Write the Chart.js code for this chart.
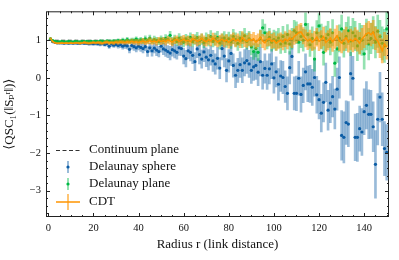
<!DOCTYPE html>
<html>
<head>
<meta charset="utf-8">
<script src="https://cdn.jsdelivr.net/npm/chart.js@4.4.1/dist/chart.umd.min.js"></script>
<style>
    html, body { margin: 0; padding: 0; background: #fff; }
    canvas { display: block; }
</style>
</head>
<body>
<canvas id="qscChart" width="399" height="260"></canvas>
<script>
// radius r (link distance), 1..150
const radii = Array.from({ length: 150 }, (_, i) => i + 1);

// tick labels
const xTickValues = [0, 20, 40, 60, 80, 100, 120, 140];
const yTickValues = [-3, -2, -1, 0, 1];

// continuum plane reference
const continuumX = [0, 150];
const continuumY = [1, 1];

// Delaunay sphere
const sphereMean = [
    1.03, 0.96, 0.94, 0.93, 0.93, 0.93, 0.92, 0.93, 0.92, 0.93,
    0.92, 0.93, 0.92, 0.92, 0.93, 0.92, 0.92, 0.91, 0.92, 0.91,
    0.92, 0.91, 0.90, 0.92, 0.89, 0.91, 0.84, 0.90, 0.87, 0.89,
    0.86, 0.88, 0.84, 0.87, 0.85, 0.76, 0.86, 0.83, 0.80, 0.84,
    0.81, 0.78, 0.83, 0.70, 0.80, 0.72, 0.79, 0.74, 0.70, 0.84,
    0.77, 0.74, 0.70, 0.66, 0.75, 0.72, 0.68, 0.80, 0.78, 0.58,
    0.51, 0.72, 0.68, 0.60, 0.43, 0.77, 0.62, 0.50, 0.69, 0.55,
    0.48, 0.60, 0.45, 0.37, 0.52, 0.26, 0.78, 0.58, 0.20, 0.45,
    0.65, 0.33, 0.07, 0.20, 0.35, 0.20, 0.40, 0.46, 0.37, 0.20,
    0.29, 0.33, 0.15, 0.43, 0.07, 0.25, 0.07, 0.24, 0.37, 0.00,
    0.16, -0.17, 0.05, 0.01, -0.23, -0.41, 0.27, 0.57, -0.41, -0.41,
    -0.01, -0.44, -0.20, 0.16, -0.16, -0.16, -0.25, 0.01, -0.45, -0.58,
    -0.94, -0.65, -0.12, -0.86, -0.67, -0.50, -0.83, -0.30, 0.01, -1.53,
    -1.58, -1.19, -1.23, 0.11, -0.01, -1.58, -1.58, -1.35, -1.44, -0.90,
    -0.73, -0.97, -0.97, -1.30, -2.30, -1.10, -0.51, -1.10, -1.88, -1.98
];
const sphereErr = [
    0.02, 0.02, 0.02, 0.02, 0.02, 0.02, 0.03, 0.02, 0.03, 0.03,
    0.03, 0.03, 0.03, 0.04, 0.03, 0.04, 0.04, 0.04, 0.05, 0.04,
    0.05, 0.05, 0.05, 0.06, 0.05, 0.06, 0.06, 0.07, 0.06, 0.07,
    0.07, 0.08, 0.08, 0.09, 0.08, 0.10, 0.09, 0.10, 0.11, 0.10,
    0.11, 0.12, 0.11, 0.13, 0.12, 0.14, 0.13, 0.15, 0.14, 0.16,
    0.15, 0.17, 0.16, 0.18, 0.17, 0.19, 0.18, 0.20, 0.19, 0.21,
    0.22, 0.21, 0.23, 0.22, 0.24, 0.23, 0.25, 0.24, 0.26, 0.25,
    0.27, 0.26, 0.28, 0.27, 0.29, 0.28, 0.30, 0.29, 0.31, 0.30,
    0.32, 0.31, 0.33, 0.32, 0.34, 0.33, 0.35, 0.34, 0.36, 0.35,
    0.36, 0.37, 0.36, 0.38, 0.37, 0.39, 0.38, 0.40, 0.39, 0.41,
    0.40, 0.42, 0.41, 0.43, 0.42, 0.44, 0.43, 0.45, 0.44, 0.46,
    0.45, 0.47, 0.46, 0.48, 0.47, 0.49, 0.48, 0.50, 0.49, 0.51,
    0.50, 0.52, 0.51, 0.53, 0.52, 0.54, 0.53, 0.56, 0.55, 0.66,
    0.68, 0.58, 0.60, 0.57, 0.58, 0.62, 0.64, 0.60, 0.62, 0.61,
    0.63, 0.65, 0.64, 0.66, 0.90, 0.68, 0.66, 0.70, 0.72, 0.74
];

// Delaunay plane
const planeMean = [
    1.04, 0.99, 0.97, 0.96, 0.96, 0.97, 0.96, 0.96, 0.97, 0.96,
    0.96, 0.97, 0.96, 0.96, 0.97, 0.96, 0.97, 0.96, 0.97, 0.96,
    0.97, 0.96, 0.98, 0.97, 0.96, 0.98, 0.97, 0.96, 0.98, 0.97,
    0.99, 0.97, 1.00, 0.98, 1.02, 0.97, 1.00, 0.99, 1.03, 0.98,
    1.01, 0.98, 1.04, 0.99, 1.06, 0.98, 1.02, 1.00, 0.97, 1.03,
    0.99, 1.05, 1.02, 1.13, 0.98, 1.03, 0.97, 1.06, 1.00, 0.95,
    1.04, 0.99, 1.08, 0.96, 1.02, 1.07, 0.98, 1.03, 0.94, 1.05,
    1.00, 1.10, 0.97, 1.03, 1.08, 0.93, 1.01, 1.06, 0.98, 1.04,
    0.96, 1.10, 1.02, 0.92, 1.05, 1.00, 1.12, 0.97, 1.04, 0.82,
    0.70, 0.78, 0.68, 1.05, 1.33, 1.20, 1.00, 1.08, 0.95, 1.02,
    0.98, 1.06, 0.90, 1.10, 0.93, 1.15, 0.90, 1.04, 1.25, 1.20,
    0.95, 1.10, 1.00, 1.42, 1.15, 0.88, 1.05, 0.50, 1.20, 1.38,
    1.10, 0.68, 1.05, 1.15, 0.95, 1.20, 0.39, 0.77, 1.05, 1.30,
    0.92, 1.10, 1.25, 0.98, 1.20, 1.11, 0.85, 1.05, 1.00, 0.64,
    1.15, 0.90, 1.05, 1.20, 0.95, 1.24, 1.10, 0.92, 0.85, 1.30
];
const planeErr = [
    0.02, 0.02, 0.02, 0.02, 0.02, 0.02, 0.02, 0.02, 0.02, 0.02,
    0.02, 0.02, 0.03, 0.02, 0.03, 0.03, 0.03, 0.03, 0.03, 0.03,
    0.03, 0.04, 0.03, 0.04, 0.04, 0.04, 0.04, 0.05, 0.04, 0.05,
    0.05, 0.05, 0.06, 0.05, 0.06, 0.06, 0.06, 0.07, 0.06, 0.07,
    0.07, 0.07, 0.08, 0.07, 0.08, 0.08, 0.09, 0.08, 0.09, 0.09,
    0.09, 0.10, 0.10, 0.11, 0.10, 0.11, 0.11, 0.12, 0.11, 0.12,
    0.12, 0.13, 0.12, 0.13, 0.13, 0.14, 0.13, 0.14, 0.14, 0.15,
    0.15, 0.16, 0.15, 0.16, 0.16, 0.17, 0.16, 0.17, 0.17, 0.18,
    0.18, 0.19, 0.18, 0.19, 0.19, 0.20, 0.20, 0.21, 0.20, 0.21,
    0.21, 0.22, 0.22, 0.23, 0.22, 0.23, 0.23, 0.24, 0.24, 0.25,
    0.25, 0.26, 0.25, 0.27, 0.26, 0.27, 0.27, 0.28, 0.28, 0.29,
    0.29, 0.30, 0.29, 0.31, 0.30, 0.31, 0.31, 0.32, 0.32, 0.33,
    0.33, 0.34, 0.33, 0.35, 0.34, 0.35, 0.35, 0.36, 0.36, 0.37,
    0.37, 0.38, 0.37, 0.39, 0.38, 0.39, 0.39, 0.40, 0.40, 0.41,
    0.41, 0.42, 0.41, 0.43, 0.42, 0.43, 0.43, 0.44, 0.44, 0.45
];

// CDT
const cdtMean = [
    1.05, 0.96, 0.93, 0.92, 0.92, 0.93, 0.92, 0.93, 0.92, 0.93,
    0.92, 0.93, 0.93, 0.92, 0.93, 0.94, 0.93, 0.92, 0.93, 0.94,
    0.93, 0.94, 0.93, 0.92, 0.94, 0.95, 0.93, 0.94, 0.93, 0.95,
    0.94, 0.96, 0.95, 0.94, 0.96, 0.95, 0.97, 0.95, 0.96, 0.94,
    0.96, 0.98, 0.95, 0.97, 0.99, 0.96, 0.98, 0.95, 1.00, 0.97,
    0.99, 0.96, 1.01, 0.98, 0.95, 1.00, 1.02, 0.97, 0.99, 1.03,
    0.98, 1.00, 0.96, 1.04, 1.01, 0.97, 1.00, 1.05, 0.99, 0.96,
    1.02, 0.98, 1.06, 1.00, 0.95, 0.99, 1.03, 0.97, 1.01, 0.94,
    1.00, 1.05, 0.98, 1.02, 0.96, 1.07, 1.00, 0.97, 1.03, 0.99,
    1.04, 0.95, 1.00, 1.08, 0.98, 0.93, 1.02, 1.05, 0.97, 1.00,
    0.92, 0.97, 1.00, 0.95, 1.03, 0.98, 1.06, 1.02, 1.10, 1.15,
    1.20, 1.22, 1.12, 1.05, 0.98, 1.03, 0.95, 1.00, 1.08, 0.97,
    1.02, 1.10, 0.94, 1.00, 1.06, 0.96, 1.04, 1.12, 0.98, 0.93,
    1.00, 1.07, 0.95, 1.02, 0.97, 1.05, 0.99, 0.92, 1.03, 1.10,
    1.17, 1.20, 1.15, 1.22, 1.05, 0.98, 0.85, 0.72, 0.90, 0.82
];
const cdtErr = [
    0.02, 0.02, 0.02, 0.02, 0.02, 0.02, 0.02, 0.02, 0.02, 0.02,
    0.02, 0.02, 0.02, 0.03, 0.02, 0.03, 0.03, 0.03, 0.03, 0.03,
    0.03, 0.03, 0.04, 0.03, 0.04, 0.04, 0.04, 0.04, 0.05, 0.04,
    0.05, 0.05, 0.05, 0.05, 0.06, 0.05, 0.06, 0.06, 0.06, 0.07,
    0.06, 0.07, 0.07, 0.07, 0.08, 0.07, 0.08, 0.08, 0.08, 0.09,
    0.08, 0.09, 0.09, 0.09, 0.10, 0.09, 0.10, 0.10, 0.11, 0.10,
    0.11, 0.11, 0.11, 0.12, 0.11, 0.12, 0.12, 0.12, 0.13, 0.12,
    0.13, 0.13, 0.13, 0.14, 0.13, 0.14, 0.14, 0.15, 0.14, 0.15,
    0.15, 0.15, 0.16, 0.15, 0.16, 0.16, 0.17, 0.16, 0.17, 0.17,
    0.17, 0.18, 0.17, 0.18, 0.18, 0.19, 0.18, 0.19, 0.19, 0.20,
    0.19, 0.20, 0.20, 0.21, 0.20, 0.21, 0.21, 0.22, 0.21, 0.22,
    0.22, 0.23, 0.22, 0.23, 0.23, 0.24, 0.23, 0.24, 0.24, 0.25,
    0.24, 0.25, 0.25, 0.26, 0.25, 0.26, 0.26, 0.27, 0.26, 0.27,
    0.27, 0.28, 0.27, 0.28, 0.28, 0.29, 0.28, 0.29, 0.29, 0.30,
    0.29, 0.30, 0.30, 0.31, 0.30, 0.31, 0.31, 0.32, 0.31, 0.32
];

const seriesNames = ['Continuum plane', 'Delaunay sphere', 'Delaunay plane', 'CDT'];

const BLUE = '#0C5DA5';
const GREEN = '#00B945';
const ORANGE = '#FF9500';
const BLUE_ERR = 'rgba(12,93,165,0.42)';
const GREEN_ERR = 'rgba(0,185,69,0.42)';
const ORANGE_ERR = 'rgba(255,149,0,0.55)';
const FONT = "'Liberation Serif', 'DejaVu Serif', serif";

const QscChart = {
    chart: null,

    /**
     * points as {x, y}
     */
    toPoints: function(xs, ys) {
        return xs.map((x, i) => ({ x: x, y: ys[i] }));
    },

    /**
     * error bars as floating bars [mean - err, mean + err]
     */
    toErrorBars: function(means, errs) {
        return radii.map((r, i) => ({ x: r, y: [means[i] - errs[i], means[i] + errs[i]] }));
    },

    /**
     * inward ticks on all four sides plus the frame
     */
    frameTicks: {
        id: 'frameTicks',
        afterDraw: function(chart) {
            const ctx = chart.ctx;
            const area = chart.chartArea;
            const xs = chart.scales.x;
            const ys = chart.scales.y;
            ctx.save();
            ctx.strokeStyle = '#222';
            ctx.lineWidth = 1;
            ctx.strokeRect(area.left + 0.5, area.top + 0.5, area.right - area.left - 1, area.bottom - area.top - 1);
            ctx.beginPath();
            for (let k = 0; k <= 150; k += 5) {
                const px = Math.round(xs.getPixelForValue(k)) + 0.5;
                const len = k % 20 === 0 ? 4 : 2;
                ctx.moveTo(px, area.bottom);
                ctx.lineTo(px, area.bottom - len);
                ctx.moveTo(px, area.top);
                ctx.lineTo(px, area.top + len);
            }
            for (let k = -18; k <= 8; k++) {
                const py = Math.round(ys.getPixelForValue(k / 5)) + 0.5;
                const len = k % 5 === 0 ? 4 : 2;
                ctx.moveTo(area.left, py);
                ctx.lineTo(area.left + len, py);
                ctx.moveTo(area.right, py);
                ctx.lineTo(area.right - len, py);
            }
            ctx.stroke();
            ctx.restore();
        }
    },

    /**
     * legend inside the lower left corner
     */
    insideLegend: {
        id: 'insideLegend',
        afterDraw: function(chart) {
            const ctx = chart.ctx;
            const rows = [150, 167, 184, 202];
            const x0 = 56, x1 = 80, xm = 68;
            ctx.save();
            // Continuum plane
            ctx.strokeStyle = '#333';
            ctx.lineWidth = 1;
            ctx.setLineDash([4, 2.5]);
            ctx.beginPath();
            ctx.moveTo(x0, rows[0] + 0.5);
            ctx.lineTo(x1, rows[0] + 0.5);
            ctx.stroke();
            ctx.setLineDash([]);
            // Delaunay sphere / plane
            [[BLUE, BLUE_ERR], [GREEN, GREEN_ERR]].forEach((c, i) => {
                const y = rows[i + 1];
                ctx.fillStyle = c[1];
                ctx.fillRect(xm - 1, y - 6, 2, 12);
                ctx.fillStyle = c[0];
                ctx.beginPath();
                ctx.arc(xm, y, 1.6, 0, Math.PI * 2);
                ctx.fill();
            });
            // CDT
            ctx.fillStyle = ORANGE_ERR;
            ctx.fillRect(xm - 1, rows[3] - 8, 2, 16);
            ctx.strokeStyle = ORANGE;
            ctx.lineWidth = 1.5;
            ctx.beginPath();
            ctx.moveTo(x0, rows[3]);
            ctx.lineTo(x1, rows[3]);
            ctx.stroke();
            // labels
            ctx.fillStyle = '#111';
            ctx.font = '13px ' + FONT;
            ctx.textBaseline = 'middle';
            seriesNames.forEach((name, i) => ctx.fillText(name, 89, rows[i]));
            ctx.restore();
        }
    },

    init: function() {
        const ctx = document.getElementById('qscChart').getContext('2d');
        const minus = v => (v < 0 ? '\u2212' + Math.abs(v) : String(v));

        this.chart = new Chart(ctx, {
            type: 'line',
            data: {
                datasets: [
                    {
                        label: seriesNames[0],
                        data: this.toPoints(continuumX, continuumY),
                        borderColor: '#333',
                        borderWidth: 1,
                        borderDash: [4, 2.5],
                        pointRadius: 0,
                        order: 10
                    },
                    {
                        type: 'bar',
                        label: seriesNames[1] + ' err',
                        data: this.toErrorBars(sphereMean, sphereErr),
                        backgroundColor: BLUE_ERR,
                        barThickness: 2,
                        grouped: false,
                        order: 9
                    },
                    {
                        label: seriesNames[1],
                        data: this.toPoints(radii, sphereMean),
                        showLine: false,
                        pointRadius: 1.6,
                        pointBorderWidth: 0,
                        pointBackgroundColor: BLUE,
                        order: 8
                    },
                    {
                        type: 'bar',
                        label: seriesNames[2] + ' err',
                        data: this.toErrorBars(planeMean, planeErr),
                        backgroundColor: GREEN_ERR,
                        barThickness: 2,
                        grouped: false,
                        order: 7
                    },
                    {
                        label: seriesNames[2],
                        data: this.toPoints(radii, planeMean),
                        showLine: false,
                        pointRadius: 1.6,
                        pointBorderWidth: 0,
                        pointBackgroundColor: GREEN,
                        order: 6
                    },
                    {
                        type: 'bar',
                        label: seriesNames[3] + ' err',
                        data: this.toErrorBars(cdtMean, cdtErr),
                        backgroundColor: ORANGE_ERR,
                        barThickness: 2,
                        grouped: false,
                        order: 5
                    },
                    {
                        label: seriesNames[3],
                        data: this.toPoints(radii, cdtMean),
                        borderColor: ORANGE,
                        borderWidth: 1.5,
                        pointRadius: 0,
                        tension: 0,
                        order: 4
                    }
                ]
            },
            options: {
                responsive: false,
                animation: false,
                events: [],
                layout: { padding: { top: 8, right: 10, left: 0, bottom: 0 } },
                plugins: {
                    legend: { display: false },
                    tooltip: { enabled: false }
                },
                scales: {
                    x: {
                        type: 'linear',
                        min: -1,
                        max: 151,
                        offset: false,
                        grid: { display: false, drawTicks: false },
                        border: { display: false },
                        ticks: {
                            padding: 5,
                            maxRotation: 0,
                            autoSkip: false,
                            color: '#111',
                            font: { family: FONT, size: 10.5 }
                        },
                        afterBuildTicks: s => {
                            s.ticks = xTickValues.map(v => ({ value: v }));
                        },
                        afterFit: s => { s.height = 43; },
                        title: {
                            display: true,
                            text: 'Radius r (link distance)',
                            color: '#111',
                            font: { family: FONT, size: 13 },
                            padding: { top: 0, bottom: 8 }
                        }
                    },
                    y: {
                        min: -3.7,
                        max: 1.77,
                        grid: { display: false, drawTicks: false },
                        border: { display: false },
                        ticks: {
                            padding: 5,
                            autoSkip: false,
                            color: '#111',
                            font: { family: FONT, size: 10.5 },
                            callback: v => minus(v)
                        },
                        afterBuildTicks: s => {
                            s.ticks = yTickValues.map(v => ({ value: v }));
                        },
                        afterFit: s => { s.width = 46; },
                        title: {
                            display: true,
                            text: '\u27E8QSC\u2081(\u2016S\u209A\u02B3\u2016)\u27E9',
                            color: '#111',
                            font: { family: FONT, size: 13 },
                            padding: { top: 2, bottom: 0 }
                        }
                    }
                }
            },
            plugins: [this.frameTicks, this.insideLegend]
        });
    }
};

QscChart.init();
</script>
</body>
</html>
